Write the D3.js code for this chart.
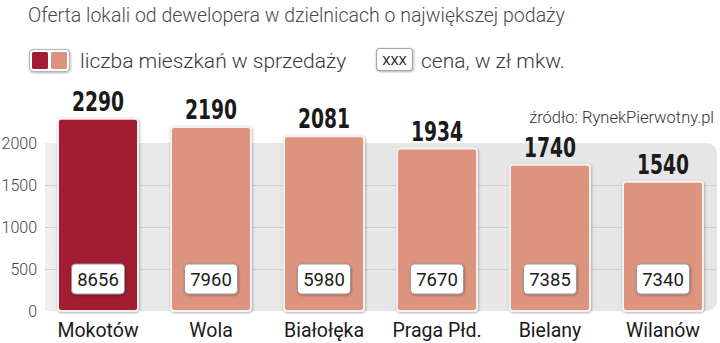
<!DOCTYPE html>
<html>
<head>
<meta charset="utf-8">
<script src="https://cdn.jsdelivr.net/npm/d3@7/dist/d3.min.js"></script>
<style>
  html, body { margin: 0; padding: 0; background: #fff; }
  svg { display: block; }
</style>
</head>
<body>
<svg id="chart" width="720" height="343"></svg>
<script>
// Districts, number of flats on sale, and price per m² (zł)
const districts = ["Mokotów", "Wola", "Białołęka", "Praga Płd.", "Bielany", "Wilanów"];
const flats = [2290, 2190, 2081, 1934, 1740, 1540];
const prices = [8656, 7960, 5980, 7670, 7385, 7340];
const yTicks = [0, 500, 1000, 1500, 2000];

const darkRed = "#a21b32";
const salmon = "#dd947f";

const svg = d3.select("#chart");
const defs = svg.append("defs");

const bg = defs.append("linearGradient").attr("id", "panelGrad")
  .attr("x1", 0).attr("x2", 1).attr("y1", 0).attr("y2", 0);
bg.append("stop").attr("offset", "0").attr("stop-color", "#f0f0f0");
bg.append("stop").attr("offset", "0.04").attr("stop-color", "#e8e8e8");
bg.append("stop").attr("offset", "1").attr("stop-color", "#e6e6e6");

const shadow = defs.append("filter").attr("id", "shadow")
  .attr("x", "-20%").attr("y", "-20%").attr("width", "140%").attr("height", "140%");
shadow.append("feDropShadow").attr("dx", 0.6).attr("dy", 0.8)
  .attr("stdDeviation", 0.9).attr("flood-color", "#000").attr("flood-opacity", 0.35);

// Title
svg.append("text")
  .attr("x", 28).attr("y", 22)
  .attr("font-family", "Roboto").attr("font-weight", 300)
  .attr("font-size", 19.5).attr("fill", "#4a4a4a")
  .text("Oferta lokali od dewelopera w dzielnicach o największej podaży");

// Legend: bar swatch
const lg = svg.append("g");
lg.append("rect").attr("x", 29.5).attr("y", 49.5).attr("width", 40).attr("height", 22)
  .attr("rx", 4).attr("fill", "#fff").attr("stroke", "#b5b5b5").attr("stroke-width", 1.2)
  .attr("filter", "url(#shadow)");
lg.append("rect").attr("x", 32).attr("y", 52).attr("width", 16).attr("height", 17)
  .attr("rx", 1.5).attr("fill", darkRed);
lg.append("rect").attr("x", 51).attr("y", 52).attr("width", 16).attr("height", 17)
  .attr("rx", 1.5).attr("fill", salmon);
lg.append("text").attr("x", 80).attr("y", 68)
  .attr("font-family", "Roboto").attr("font-weight", 300)
  .attr("font-size", 21).attr("fill", "#3a3a3a")
  .text("liczba mieszkań w sprzedaży");

// Legend: price box
lg.append("rect").attr("x", 376.5).attr("y", 48.5).attr("width", 36).attr("height", 22)
  .attr("rx", 3).attr("fill", "#fff").attr("stroke", "#a8a8a8").attr("stroke-width", 1.2)
  .attr("filter", "url(#shadow)");
lg.append("text").attr("x", 394.5).attr("y", 65).attr("text-anchor", "middle")
  .attr("font-family", "Roboto").attr("font-size", 13).attr("fill", "#222")
  .text("XXX");
lg.append("text").attr("x", 421).attr("y", 68)
  .attr("font-family", "Roboto").attr("font-weight", 300)
  .attr("font-size", 21).attr("fill", "#3a3a3a")
  .text("cena, w zł mkw.");

// Scales
const step = 113, po = 0.2, pi = 0.292;
const x0 = 58 - po * step;
const x = d3.scaleBand().domain(districts)
  .range([x0, x0 + step * (districts.length - pi + 2 * po)])
  .paddingInner(pi).paddingOuter(po);
const y = d3.scaleLinear().domain([0, 2000]).range([311, 143]);

// Grey panel behind the bars
const panelLeft = 45, panelRight = 717;
svg.append("path")
  .attr("d", () => {
    const t = y(2000), b = y(0), r = 12;
    return `M${panelLeft},${t} H${panelRight - r} Q${panelRight},${t} ${panelRight},${t + r}` +
           ` V${b - r} Q${panelRight},${b} ${panelRight - r},${b} H${panelLeft} Z`;
  })
  .attr("fill", "url(#panelGrad)");

// Gridlines
svg.append("g").selectAll("line").data(yTicks.filter(d => d > 0 && d < 2000)).join("line")
  .attr("x1", panelLeft).attr("x2", panelRight)
  .attr("y1", d => y(d) + 0.5).attr("y2", d => y(d) + 0.5)
  .attr("stroke", "#cfcfcf").attr("stroke-width", 1);

// Y axis labels
const yAxis = d3.axisLeft(y).tickValues(yTicks).tickFormat(d3.format("d")).tickSize(0).tickPadding(0);
const ya = svg.append("g").attr("transform", "translate(37,0)").call(yAxis);
ya.select(".domain").remove();
ya.selectAll("text")
  .attr("font-family", "Roboto").attr("font-weight", 300)
  .attr("font-size", 16).attr("fill", "#444");

// Bars
svg.append("g").selectAll("rect").data(districts).join("rect")
  .attr("x", d => x(d))
  .attr("y", (d, i) => y(flats[i]))
  .attr("width", x.bandwidth())
  .attr("height", (d, i) => y(0) - y(flats[i]))
  .attr("rx", 3)
  .attr("fill", (d, i) => i === 0 ? darkRed : salmon)
  .attr("stroke", "#f6f1ee").attr("stroke-width", 2)
  .attr("filter", "url(#shadow)");

// Value labels above bars (narrowed bold figures)
svg.append("g").selectAll("text").data(districts).join("text")
  .attr("transform", (d, i) =>
    `translate(${x(d) + x.bandwidth() / 2},${y(flats[i]) - 8}) scale(0.8,1)`)
  .attr("text-anchor", "middle")
  .attr("font-family", "'DejaVu Sans Condensed', 'DejaVu Sans', sans-serif")
  .attr("font-weight", "bold")
  .attr("font-size", 26).attr("fill", "#1a1a1a")
  .text((d, i) => flats[i]);

// Price boxes inside bars
const pb = svg.append("g").selectAll("g").data(districts).join("g")
  .attr("transform", d => `translate(${x(d) + x.bandwidth() / 2},279)`);
pb.append("rect")
  .attr("x", -26.5).attr("y", -15).attr("width", 53).attr("height", 30)
  .attr("rx", 4).attr("fill", "#fff").attr("stroke", "#9a9a9a").attr("stroke-width", 1)
  .attr("filter", "url(#shadow)");
pb.append("text")
  .attr("y", 7).attr("text-anchor", "middle")
  .attr("font-family", "Roboto").attr("font-size", 18.5).attr("fill", "#1a1a1a")
  .text((d, i) => prices[i]);

// Category labels
const xAxis = d3.axisBottom(x).tickSize(0).tickPadding(0);
const xa = svg.append("g").attr("transform", "translate(0,323)").call(xAxis);
xa.select(".domain").remove();
xa.selectAll("text")
  .attr("dy", "0.71em")
  .attr("font-family", "Roboto").attr("font-size", 19.5).attr("fill", "#1a1a1a");

// Source note
svg.append("text")
  .attr("x", 714).attr("y", 123).attr("text-anchor", "end")
  .attr("font-family", "Roboto").attr("font-weight", 300)
  .attr("font-size", 16.5).attr("fill", "#333")
  .text("źródło: RynekPierwotny.pl");
</script>
</body>
</html>
